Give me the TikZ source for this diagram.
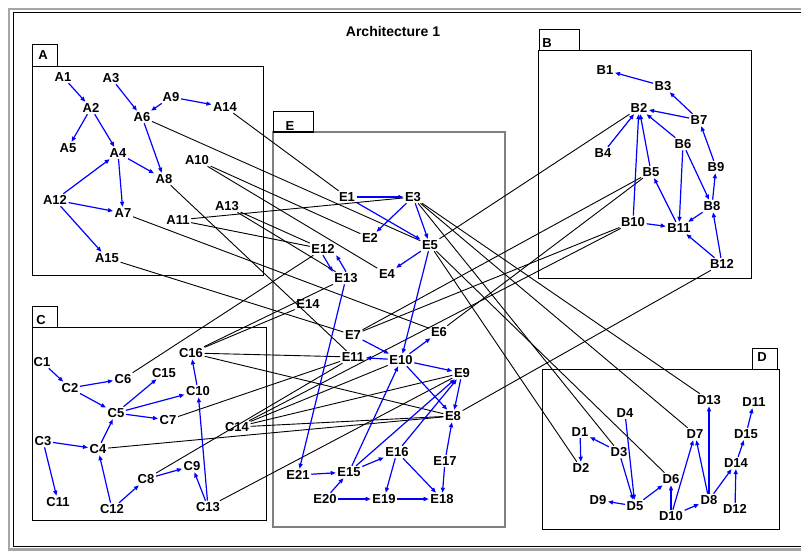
\documentclass[tikz,border=0pt]{standalone}
\usepackage{fontspec}
\setmainfont{Liberation Sans}
\usetikzlibrary{shapes,arrows,arrows.meta,positioning}

\begin{document}
\begin{tikzpicture}[x=1pt,y=-1pt]
 \tikzset{unit node/.style={inner sep=1.5pt,
 		font=\fontsize{13}{13}\selectfont\bfseries}, }
 \tikzset{title node/.style={inner sep=1pt,
 		font=\fontsize{14}{14}\selectfont\bfseries}, }
 \tikzset{group box/.style={draw, line width=0.8pt}, }
 \tikzset{core box/.style={draw=gray, line width=1.4pt}, }
 \tikzset{link/.style={black, line width=0.9pt},}
 \tikzset{flow/.style={blue, line width=1.2pt, -{Triangle[length=5pt,width=4pt]}},}
 \useasboundingbox (0,0) rectangle (801,551);
 % frame
 \draw[gray!70, line width=2.2pt] (801,9) -- (9,9) -- (9,549.5) -- (801,549.5);
 \draw[line width=1pt] (801,13) -- (13,13) -- (13,546) -- (801,546);
 \node[title node] (title) at (393,31) {Architecture 1};
 % groups
 \draw[group box] (32,66) rectangle (263,275);
 \draw[group box] (32,44) rectangle (57,66);
 \draw[group box] (538,50) rectangle (751,278);
 \draw[group box] (539,29) rectangle (579,50);
 \draw[group box] (32,327) rectangle (266,520);
 \draw[group box] (32,306) rectangle (57,327);
 \draw[group box] (542,369) rectangle (779,529);
 \draw[group box] (752,348) rectangle (777,369);
 \draw[core box] (273,132) rectangle (505,527);
 \draw[group box] (273,111) rectangle (313,132);
 \draw[line width=1.6pt] (273,132) -- (313,132);
 \foreach \n/\x/\y in {A/43/55,B/547/43,C/41/320,D/762/357,E/290/126}
 \node[unit node] (tab\n) at (\x,\y) {\n};
 % units
 \foreach \n/\x/\y in {A1/63/77,A2/91/108,A3/111/78,A4/118/153,A5/68/148,
 A6/142/117,A7/123/213,A8/164/179,A9/171/97,A10/197/160,A11/178/220,
 A12/55/200,A13/227/206,A14/225/107,A15/107/258,
 B1/605/70,B2/639/108,B3/663/86,B4/603/153,B5/651/172,B6/683/144,
 B7/699/120,B8/712/206,B9/716/167,B10/633/222,B11/679/228,B12/722/264,
 C1/42/362,C2/70/388,C3/43/441,C4/98/449,C5/116/413,C6/123/379,
 C7/168/420,C8/146/479,C9/192/466,C10/198/391,C11/58/502,C12/112/509,
 C13/208/507,C14/237/427,C15/164/373,C16/191/353,
 D1/580/432,D2/581/468,D3/619/452,D4/625/413,D5/635/506,D6/671/479,
 D7/695/434,D8/709/500,D9/598/500,D10/671/516,D11/754/402,D12/735/509,
 D13/709/400,D14/736/463,D15/746/434,
 E1/347/197,E2/370/238,E3/413/197,E4/387/274,E5/430/245,E6/439/332,
 E7/353/335,E8/453/416,E9/462/373,E10/401/360,E11/353/357,E12/323/249,
 E13/346/278,E14/308/304,E15/349/472,E16/397/452,E17/445/461,
 E18/442/499,E19/384/499,E20/325/499,E21/298/475}
 \node[unit node] (\n) at (\x,\y) {\n};
 % links between groups
 \foreach \x/\y in {A14/E1,A6/E5,A10/E2,A10/E4,A11/E3,A11/E12,A13/E12,
 A13/E13,A7/E6,A15/E7,A8/E11,B2/E5,B5/E7,B10/E7,B5/E6,B12/E8,B10/C14,
 C6/E12,C16/E14,C16/E13,C16/E11,C16/E8,C7/E11,C8/E11,C14/E10,C14/E9,
 C14/E8,C4/E8,C13/E9,E3/D13,E3/D7,E3/D3,E5/D6,E5/D2}
 \path[link] (\x) edge (\y);
 % flows inside groups
 \foreach \x/\y in {A1/A2,A2/A5,A2/A4,A3/A6,A9/A6,A9/A14,A6/A8,A4/A8,
 A4/A7,A12/A4,A12/A7,A12/A15,
 B3/B1,B7/B3,B7/B2,B6/B2,B4/B2,B10/B2,B5/B2,B9/B7,B8/B9,B6/B8,B6/B11,
 B8/B11,B11/B5,B10/B11,B12/B11,B12/B8,
 C1/C2,C2/C6,C2/C5,C5/C15,C5/C10,C5/C7,C4/C5,C3/C4,C3/C11,C12/C4,
 C12/C8,C8/C9,C13/C9,C13/C10,C10/C16,
 D3/D1,D1/D2,D3/D5,D4/D5,D5/D9,D5/D6,D10/D6,D10/D7,D10/D8,D8/D7,
 D8/D13,D8/D14,D12/D14,D14/D15,D15/D11,
 E1/E3,E1/E5,E3/E2,E3/E5,E5/E4,E5/E10,E13/E21,E7/E10,E10/E6,E10/E11,
 E10/E9,E10/E8,E9/E8,E15/E10,E15/E9,E16/E9,E17/E8,E15/E16,E21/E15,
 E20/E15,E20/E19,E19/E18,E16/E19,E16/E18,E17/E18}
 \path[flow] (\x) edge (\y);
 \path[flow] (E12.south) edge (E13.north west);
 \path[flow] (E13.north) edge (E12.south east);
\end{tikzpicture}
\end{document}
